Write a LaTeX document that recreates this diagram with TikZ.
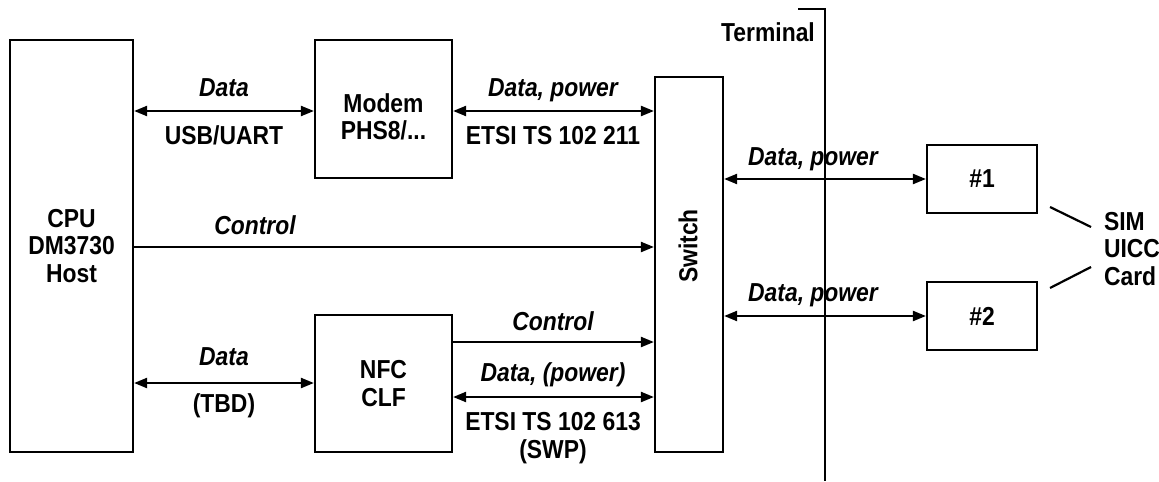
\documentclass[tikz,border=0pt]{standalone}
\usepackage{fontspec}
\setmainfont{Liberation Sans}[FakeStretch=0.88]
\usetikzlibrary{arrows.meta}

\begin{document}
\begin{tikzpicture}[
  x=0.5pt,y=-0.5pt,
  font=\fontsize{13}{13.8}\selectfont\bfseries,
  box/.style={draw,line width=1.1pt,inner sep=0pt,align=center},
  sig/.style={font=\fontsize{13}{13.8}\selectfont\bfseries\itshape},
  link/.style={line width=1.1pt},
  >={Triangle[length=6.5pt,width=5pt]}
]
  \useasboundingbox (0,0) rectangle (1159,481);

  % blocks
  \node[box,minimum width=61.5pt,minimum height=206pt] (cpu) at (71.5,246)
    {CPU\\DM3730\\Host};
  \node[box,minimum width=68.5pt,minimum height=69pt] (modem) at (383.5,109) {};
  \node[align=center] (modemtxt) at (383.5,117) {Modem\\PHS8/...};
  \node[box,minimum width=68.5pt,minimum height=68.5pt] (nfc) at (383.5,383.5)
    {NFC\\CLF};
  \node[box,minimum width=34pt,minimum height=187.5pt] (switch) at (689,264.5) {};
  \node[rotate=90] (switchtxt) at (688,246) {Switch};
  \node[box,minimum width=55pt,minimum height=34pt] (sim1) at (982,179) {\#1};
  \node[box,minimum width=55pt,minimum height=34pt] (sim2) at (982,316) {\#2};

  % terminal border
  \coordinate (ttop) at (825,9);
  \coordinate (ttick) at (798,9);
  \coordinate (tbot) at (825,481);
  \draw[link] (ttick) -- (ttop) -- (tbot);
  \node[anchor=base] (term) at (768,42) {Terminal};

  % rows of the connectors
  \coordinate (r1) at (0,111);
  \coordinate (r2) at (0,247);
  \coordinate (r3) at (0,342);
  \coordinate (r4) at (0,383);
  \coordinate (r5) at (0,397);

  \draw[link,<->] (cpu.east |- r1) -- (modem.west |- r1);
  \draw[link,<->] (modem.east |- r1) -- (switch.west |- r1);
  \draw[link,->] (cpu.east |- r2) -- (switch.west |- r2);
  \draw[link,->] (nfc.east |- r3) -- (switch.west |- r3);
  \draw[link,<->] (cpu.east |- r4) -- (nfc.west |- r4);
  \draw[link,<->] (nfc.east |- r5) -- (switch.west |- r5);
  \draw[link,<->] (switch.east |- sim1.west) -- (sim1.west);
  \draw[link,<->] (switch.east |- sim2.west) -- (sim2.west);

  % labels on the connectors
  \node[sig,anchor=base] (l1) at (224,97) {Data};
  \node[anchor=base] (l2) at (224,144) {USB/UART};
  \node[sig,anchor=base] (l3) at (553,97) {Data, power};
  \node[anchor=base] (l4) at (553,144) {ETSI TS 102 211};
  \node[sig,anchor=base] (l5) at (255,234) {Control};
  \node[sig,anchor=base] (l6) at (813,165) {Data, power};
  \node[sig,anchor=base] (l7) at (813,301) {Data, power};
  \node[sig,anchor=base] (l8) at (553,330) {Control};
  \node[sig,anchor=base] (l9) at (224,365) {Data};
  \node[anchor=base] (l10) at (224,412) {(TBD)};
  \node[sig,anchor=base] (l11) at (553,381) {Data, (power)};
  \node[anchor=base] (l12) at (553,430) {ETSI TS 102 613};
  \node[anchor=base] (l13) at (553,458) {(SWP)};

  % card note
  \node[align=left,anchor=west] (card) at (1097,249) {SIM\\UICC\\Card};
  \coordinate (p1) at (1050,207);
  \coordinate (p2) at (1091,227);
  \coordinate (p3) at (1050,288);
  \coordinate (p4) at (1091,267);
  \draw[link] (p1) -- (p2);
  \draw[link] (p3) -- (p4);
\end{tikzpicture}
\end{document}
